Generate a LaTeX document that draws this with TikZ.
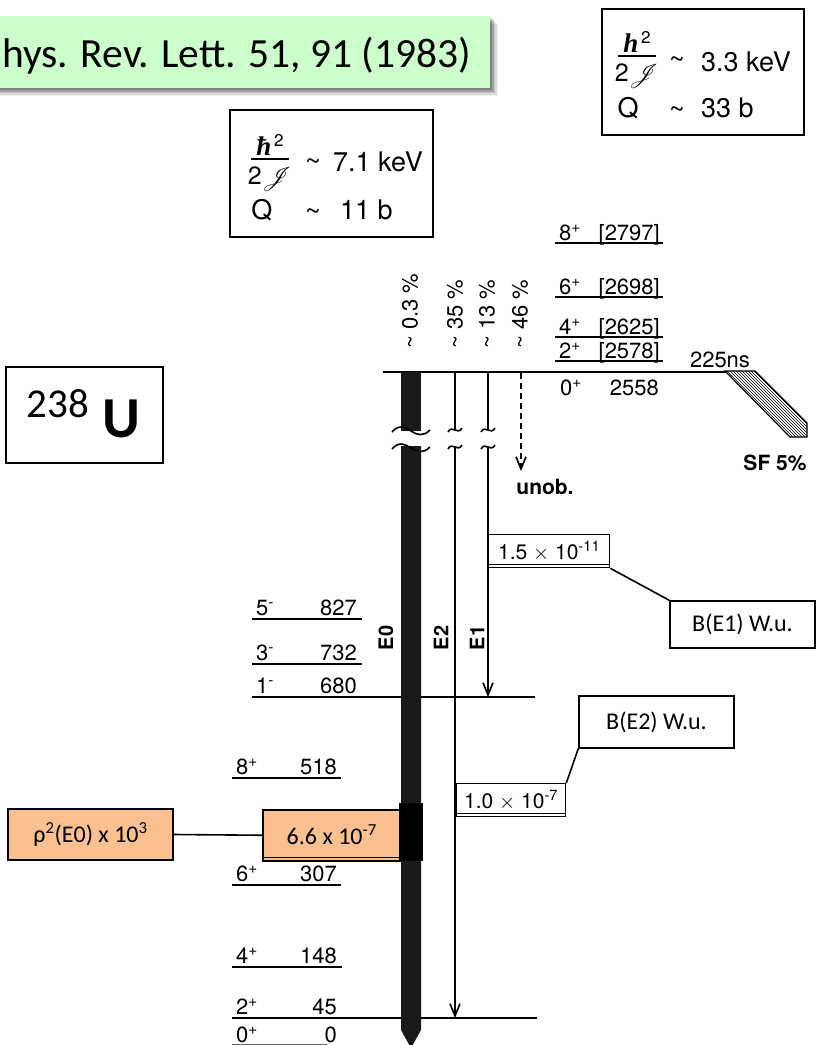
\documentclass[tikz,border=0pt]{standalone}
\usepackage{fontspec}
\usepackage{graphicx}
\setmainfont{TeX Gyre Heros}
\newfontfamily\calfont{Carlito}
\newfontfamily\serifont{Liberation Serif}
\usepackage{mathrsfs}
\usetikzlibrary{arrows.meta,patterns}
\definecolor{greenbox}{RGB}{204,255,204}
\definecolor{peach}{RGB}{250,192,144}
\newcommand\fs[1]{\fontsize{#1}{#1}\selectfont}
\tikzset{
  lvl/.style={line width=1.3pt},
  lbl/.style={inner sep=0pt, font=\fs{22}},
  pct/.style={inner sep=0pt, font=\fs{22}, rotate=90, anchor=west},
  mult/.style={inner sep=0pt, font=\fs{20}\bfseries, rotate=90},
  trline/.style={line width=1.7pt},
  tip/.style={-{Straight Barb[length=12pt,width=10pt,line width=1.7pt]}},
  wave/.style={line width=1.6pt},
  valbox/.style={draw, line width=1.3pt, fill=white, inner sep=0pt, font=\fs{21}},
  callout/.style={draw, line width=1.5pt, fill=white, inner sep=0pt, font=\calfont\fs{24}},
  orbox/.style={draw, line width=1.5pt, fill=peach, inner sep=0pt, font=\calfont\fs{24}},
  conn/.style={line width=1.6pt},
  infobox/.style={draw, line width=1.3pt},
  infotxt/.style={inner sep=0pt, font=\fs{27}},
  frpart/.style={inner sep=0pt, anchor=base},
}
\newcommand\frc[4]{%
  \draw[line width=1.5pt] (#2-19,#3) -- (#2+19,#3);
  \node[frpart] (#1n) at (#2,#3-4) {{\serifont\bfseries\itshape\fs{27}#4}\raisebox{9pt}{\fs{17}\,2}};
  \node[frpart] (#1d) at (#2,#3+25) {\fs{25}2\resizebox{!}{17pt}{$\mathscr{J}$}};
}
\newcommand\levR[4]{%
  \draw[lvl] (555,#2) -- (663,#2);
  \node[lbl,anchor=base west] (#1s) at (559,#2-3) {#3\textsuperscript{+}};
  \node[lbl,anchor=base east] (#1e) at (660,#2-3) {[#4]};
}
\newcommand\levL[8]{%
  \draw[lvl] (#2,#4) -- (#3,#4);
  \node[lbl,anchor=base west] (#1s) at (#2+4,#4-3.5) {#5\textsuperscript{#6}};
  \node[lbl,anchor=base east] (#1e) at (#8,#4-3.5) {#7};
}
\begin{document}
\begin{tikzpicture}[x=1pt,y=-1pt]
\useasboundingbox (0,0) rectangle (817,1045);
\clip (0,0) rectangle (817,1045);

% reference box with shadow
\foreach \o/\op in {8/0.06,6.5/0.08,5/0.12,3.5/0.16,2/0.2}{
  \fill[black,opacity=\op] (-10+\o,16+\o) rectangle (490+\o,88+\o);
}
\fill[greenbox] (-10,16) rectangle (490,88);
\node[inner sep=0pt,anchor=base west,font=\calfont\fs{41.5}] (ref) at (2,67) {hys. Rev. Lett. 51, 91 (1983)};

% info boxes
\draw[infobox] (602,9) rectangle (804,135);
\frc{fa}{637}{56}{h}
\node[infotxt] (t1a) at (677,63) {\textasciitilde};
\node[infotxt,anchor=west] (t1b) at (701,62) {3.3 keV};
\node[infotxt] (q1) at (628,108) {Q};
\node[infotxt] (t1c) at (677,113) {\textasciitilde};
\node[infotxt,anchor=west] (t1d) at (701,108) {33 b};

\draw[infobox] (230,110) rectangle (433,237);
\frc{fb}{270}{159}{ħ}
\node[infotxt] (t2a) at (313,165) {\textasciitilde};
\node[infotxt,anchor=west] (t2b) at (333,162) {7.1 keV};
\node[infotxt] (q2) at (262,210) {Q};
\node[infotxt] (t2c) at (313,215) {\textasciitilde};
\node[infotxt,anchor=west] (t2d) at (340,210) {11 b};

% nucleus box
\draw[infobox] (6,367) rectangle (163,463);
\node[inner sep=0pt,anchor=base,font=\calfont\fs{41}] (mass) at (58,417) {238};
\node[inner sep=0pt,anchor=base,font=\calfont\bfseries\fs{58}] (elem) at (121,437) {U};

% upper levels
\levR{l8}{243}{8}{2797}
\levR{l6}{297}{6}{2698}
\levR{l4}{337}{4}{2625}
\levR{l2}{361}{2}{2578}
\draw[line width=2.4pt] (383,372) -- (727,372);
\node[lbl,anchor=base west] (l0s) at (560,395) {0\textsuperscript{+}};
\node[lbl,anchor=base east] (l0e) at (659,395) {2558};
\node[lbl] (life) at (720,360) {225ns};
\draw[line width=1.2pt, pattern=north west lines] (725,371) -- (755,371) -- (807,423) -- (807,437) -- (790,437) -- cycle;
\node[inner sep=0pt,font=\fs{21}\bfseries] (sf) at (775,463) {SF 5\%};

% branching percentages
\node[pct] (p0) at (410,349) {\textasciitilde{} 0.3 \%};
\node[pct] (p2) at (455,349) {\textasciitilde{} 35 \%};
\node[pct] (p1) at (487,349) {\textasciitilde{} 13 \%};
\node[pct] (pu) at (520,349) {\textasciitilde{} 46 \%};

% lower levels
\levL{m5}{252}{362}{619}{5}{-}{827}{357}
\levL{m3}{252}{362}{664}{3}{-}{732}{357}
\levL{m1}{252}{535}{697}{1}{-}{680}{357}
\levL{g8}{232}{341}{778}{8}{+}{518}{337}
\levL{g6}{232}{341}{885}{6}{+}{307}{337}
\levL{g4}{232}{342}{967}{4}{+}{148}{337}
\levL{g2}{232}{537}{1018}{2}{+}{45}{337}
\draw[lvl,black!60] (232,1044.5) -- (327,1044.5);
\node[lbl,anchor=base west] (g0s) at (236,1042) {0\textsuperscript{+}};
\node[lbl,anchor=base east] (g0e) at (337,1042) {0};

% coordinates of transitions
\coordinate (e2top) at (455,372);
\coordinate (e2brk) at (455,430);
\coordinate (e2res) at (455,447);
\coordinate (e2end) at (455,1018);
\coordinate (e1top) at (488,372);
\coordinate (e1brk) at (488,430);
\coordinate (e1res) at (488,447);
\coordinate (e1end) at (488,697);
\coordinate (uotop) at (521,373);
\coordinate (uoend) at (521,471);

% E0 bar
\fill[black!90] (401,372) rectangle (421,431);
\fill[black!90] (401,446) -- (421,446) -- (421,1030) -- (411,1048) -- (401,1030) -- cycle;
\draw[wave] (392,432) .. controls (399,424) and (405,427) .. (411,431) .. controls (417,435) and (423,437) .. (430,430);
\draw[wave] (392,449) .. controls (399,441) and (405,444) .. (411,448) .. controls (417,452) and (423,454) .. (430,447);

% E2 and E1 lines
\draw[trline] (e2top) -- (e2brk);
\draw[trline,tip] (e2res) -- (e2end);
\draw[trline] (e1top) -- (e1brk);
\draw[trline,tip] (e1res) -- (e1end);
\foreach \xx in {455,488}{
  \draw[wave] (\xx-7,432) .. controls (\xx-5,428) and (\xx-2,429) .. (\xx,430) .. controls (\xx+2,431) and (\xx+5,432) .. (\xx+7,428);
  \draw[wave] (\xx-7,449) .. controls (\xx-5,445) and (\xx-2,446) .. (\xx,447) .. controls (\xx+2,448) and (\xx+5,449) .. (\xx+7,445);
}
\draw[trline,dash pattern=on 6pt off 4pt,tip] (uotop) -- (uoend);
\node[inner sep=0pt,font=\fs{21}\bfseries] (unob) at (545,487) {unob.};

% multipolarity labels
\node[mult] (lE0) at (386,638) {E0};
\node[mult] (lE2) at (441,638) {E2};
\node[mult] (lE1) at (477,638) {E1};

% value boxes
\node[valbox,minimum width=121pt,minimum height=33pt,anchor=north west] (v1) at (488,534) {\raisebox{2pt}{1.5 $\times$ 10\textsuperscript{-11}}};
\draw[lvl] ([yshift=4pt]v1.south west) -- ([yshift=4pt]v1.south east);
\node[callout,minimum width=145pt,minimum height=47pt] (be1) at (742.5,624.5) {B(E1) W.u.};
\draw[conn] (v1.south east) -- (be1.north west);

\node[valbox,minimum width=109pt,minimum height=33pt,anchor=north west] (v2) at (456,783) {\raisebox{2pt}{1.0 $\times$ 10\textsuperscript{-7}}};
\draw[lvl] ([yshift=4pt]v2.south west) -- ([yshift=4pt]v2.south east);
\node[callout,minimum width=155pt,minimum height=52pt] (be2) at (656.5,722) {B(E2) W.u.};
\draw[conn] (v2.north east) -- (be2.south west);

\node[orbox,minimum width=138pt,minimum height=51pt,anchor=north west] (v3) at (262,809) {\raisebox{2pt}{6.6 x 10\textsuperscript{-7}}};
\draw[lvl] ([yshift=4pt]v3.south west) -- ([yshift=4pt]v3.south east);
\node[orbox,minimum width=165pt,minimum height=51pt] (rho) at (90.5,834.5) {ρ\textsuperscript{2}(E0) x 10\textsuperscript{3}};
\draw[conn] (rho.east) -- (v3.west);
\fill[black] (399,803) rectangle (423,861);
\end{tikzpicture}
\end{document}
